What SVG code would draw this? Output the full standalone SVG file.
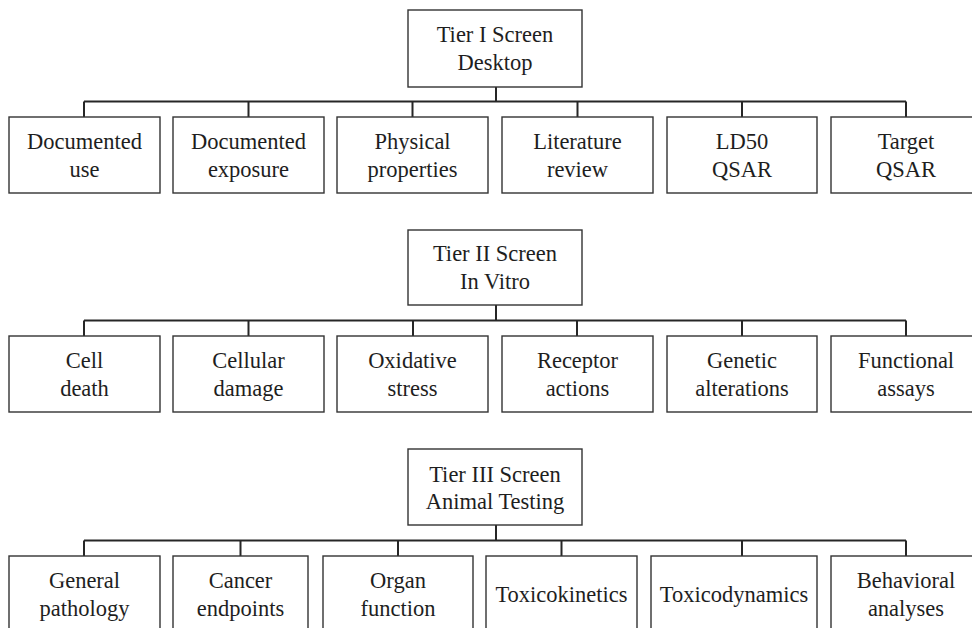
<svg xmlns="http://www.w3.org/2000/svg" width="972" height="628" viewBox="0 0 972 628">
  <style>
    .box { fill: #ffffff; stroke: #333333; stroke-width: 1.4; }
    .lbl { font-family: "Liberation Serif", "Times New Roman", serif; font-size: 22.5px; fill: #1e1e1e; text-anchor: middle; }
    .wire { fill: none; stroke: #262626; stroke-width: 2; }
  </style>
  <rect width="972" height="628" fill="#ffffff"/>

  <!-- connectors: stem from each tier box down to a bus, then a tick to every child -->
  <g id="connectors">
    <!-- Tier I -->
    <path class="wire" d="M496 87 V101.5 M84 101.5 H906 M84 101.5 V117 M248.5 101.5 V117 M412.5 101.5 V117 M577.5 101.5 V117 M742 101.5 V117 M906 101.5 V117"/>
    <!-- Tier II -->
    <path class="wire" d="M496 305 V320.5 M84 320.5 H906 M84 320.5 V336 M248.5 320.5 V336 M413 320.5 V336 M577 320.5 V336 M742 320.5 V336 M906 320.5 V336"/>
    <!-- Tier III -->
    <path class="wire" d="M496 525 V540.5 M84 540.5 H906 M84 540.5 V556 M240.5 540.5 V556 M398 540.5 V556 M561.5 540.5 V556 M742 540.5 V556 M906 540.5 V556"/>
  </g>

  <!-- Tier I -->
  <g id="tier1">
    <rect class="box" x="408" y="10" width="174" height="77"/>
    <text class="lbl" x="495" y="42">Tier I Screen</text>
    <text class="lbl" x="495" y="70">Desktop</text>
  </g>
  <g id="t1-use">
    <rect class="box" x="9" y="117" width="151" height="76"/>
    <text class="lbl" x="84.5" y="149">Documented</text>
    <text class="lbl" x="84.5" y="177">use</text>
  </g>
  <g id="t1-exposure">
    <rect class="box" x="173" y="117" width="151" height="76"/>
    <text class="lbl" x="248.5" y="149">Documented</text>
    <text class="lbl" x="248.5" y="177">exposure</text>
  </g>
  <g id="t1-physical">
    <rect class="box" x="337" y="117" width="151" height="76"/>
    <text class="lbl" x="412.5" y="149">Physical</text>
    <text class="lbl" x="412.5" y="177">properties</text>
  </g>
  <g id="t1-literature">
    <rect class="box" x="502" y="117" width="151" height="76"/>
    <text class="lbl" x="577.5" y="149">Literature</text>
    <text class="lbl" x="577.5" y="177">review</text>
  </g>
  <g id="t1-ld50">
    <rect class="box" x="667" y="117" width="150" height="76"/>
    <text class="lbl" x="742" y="149">LD50</text>
    <text class="lbl" x="742" y="177">QSAR</text>
  </g>
  <g id="t1-target">
    <rect class="box" x="831" y="117" width="151" height="76"/>
    <text class="lbl" x="906" y="149">Target</text>
    <text class="lbl" x="906" y="177">QSAR</text>
  </g>

  <!-- Tier II -->
  <g id="tier2">
    <rect class="box" x="408" y="230" width="174" height="75"/>
    <text class="lbl" x="495" y="261">Tier II Screen</text>
    <text class="lbl" x="495" y="289">In Vitro</text>
  </g>
  <g id="t2-celldeath">
    <rect class="box" x="9" y="336" width="151" height="76"/>
    <text class="lbl" x="84.5" y="368">Cell</text>
    <text class="lbl" x="84.5" y="396">death</text>
  </g>
  <g id="t2-damage">
    <rect class="box" x="173" y="336" width="151" height="76"/>
    <text class="lbl" x="248.5" y="368">Cellular</text>
    <text class="lbl" x="248.5" y="396">damage</text>
  </g>
  <g id="t2-oxidative">
    <rect class="box" x="337" y="336" width="151" height="76"/>
    <text class="lbl" x="412.5" y="368">Oxidative</text>
    <text class="lbl" x="412.5" y="396">stress</text>
  </g>
  <g id="t2-receptor">
    <rect class="box" x="502" y="336" width="151" height="76"/>
    <text class="lbl" x="577.5" y="368">Receptor</text>
    <text class="lbl" x="577.5" y="396">actions</text>
  </g>
  <g id="t2-genetic">
    <rect class="box" x="667" y="336" width="150" height="76"/>
    <text class="lbl" x="742" y="368">Genetic</text>
    <text class="lbl" x="742" y="396">alterations</text>
  </g>
  <g id="t2-functional">
    <rect class="box" x="831" y="336" width="151" height="76"/>
    <text class="lbl" x="906" y="368">Functional</text>
    <text class="lbl" x="906" y="396">assays</text>
  </g>

  <!-- Tier III -->
  <g id="tier3">
    <rect class="box" x="408" y="449" width="174" height="76"/>
    <text class="lbl" x="495" y="482">Tier III Screen</text>
    <text class="lbl" x="495" y="509">Animal Testing</text>
  </g>
  <g id="t3-pathology">
    <rect class="box" x="9" y="556" width="151" height="80"/>
    <text class="lbl" x="84.5" y="588">General</text>
    <text class="lbl" x="84.5" y="616">pathology</text>
  </g>
  <g id="t3-cancer">
    <rect class="box" x="173" y="556" width="135" height="80"/>
    <text class="lbl" x="240.5" y="588">Cancer</text>
    <text class="lbl" x="240.5" y="616">endpoints</text>
  </g>
  <g id="t3-organ">
    <rect class="box" x="323" y="556" width="150" height="80"/>
    <text class="lbl" x="398" y="588">Organ</text>
    <text class="lbl" x="398" y="616">function</text>
  </g>
  <g id="t3-kinetics">
    <rect class="box" x="486" y="556" width="151" height="80"/>
    <text class="lbl" x="561.5" y="602">Toxicokinetics</text>
  </g>
  <g id="t3-dynamics">
    <rect class="box" x="651" y="556" width="166" height="80"/>
    <text class="lbl" x="734" y="602">Toxicodynamics</text>
  </g>
  <g id="t3-behavioral">
    <rect class="box" x="831" y="556" width="151" height="80"/>
    <text class="lbl" x="906" y="588">Behavioral</text>
    <text class="lbl" x="906" y="616">analyses</text>
  </g>
</svg>
